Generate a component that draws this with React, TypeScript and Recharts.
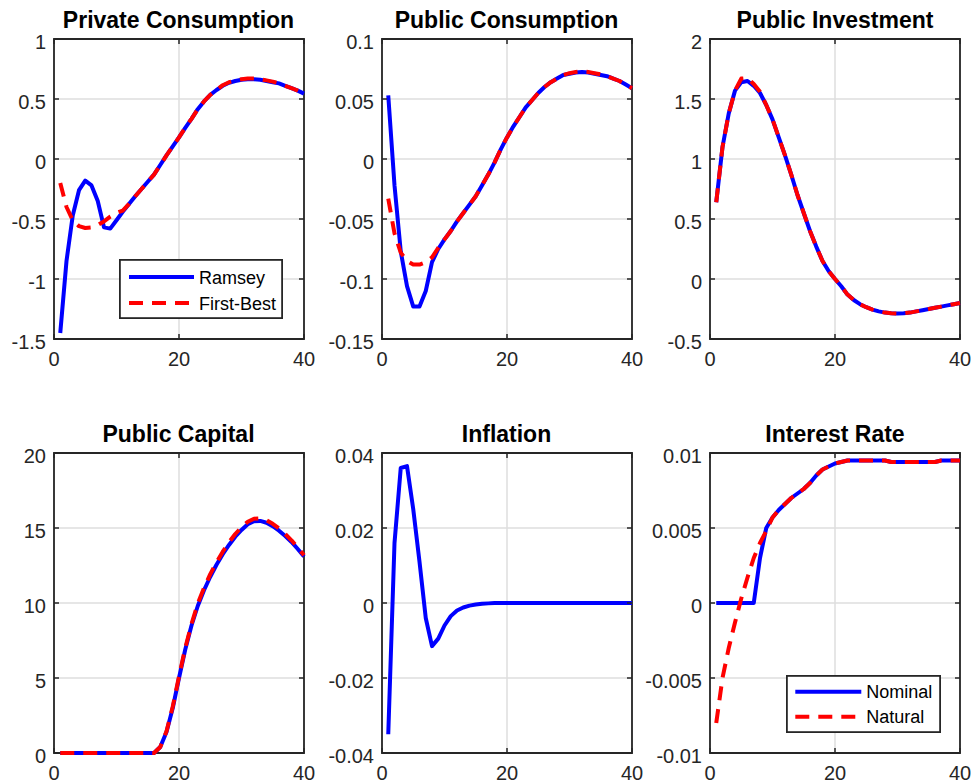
import React from 'react';
import { LineChart, Line, XAxis, YAxis, CartesianGrid, ReferenceArea, Legend } from 'recharts';

// ---------- data ----------
const periods = [1, 2, 3, 4, 5, 6, 7, 8, 9, 10, 11, 12, 13, 14, 15, 16, 17, 18, 19, 20,
  21, 22, 23, 24, 25, 26, 27, 28, 29, 30, 31, 32, 33, 34, 35, 36, 37, 38, 39, 40];
const xTicks = [0, 20, 40];

const titles = ['Private Consumption', 'Public Consumption', 'Public Investment', 'Public Capital', 'Inflation', 'Interest Rate'];
const legendTopLeft = ['Ramsey', 'First-Best'];
const legendBottomRight = ['Nominal', 'Natural'];

const yTicksPrivCons = [-1.5, -1, -0.5, 0, 0.5, 1];
const yTicksPubCons = [-0.15, -0.1, -0.05, 0, 0.05, 0.1];
const yTicksPubInv = [-0.5, 0, 0.5, 1, 1.5, 2];
const yTicksPubCap = [0, 5, 10, 15, 20];
const yTicksInfl = [-0.04, -0.02, 0, 0.02, 0.04];
const yTicksRate = [-0.01, -0.005, 0, 0.005, 0.01];

const privConsRamsey = [-1.45, -0.85, -0.47, -0.26, -0.18, -0.22, -0.35, -0.57, -0.58, -0.51,
  -0.44, -0.375, -0.31, -0.25, -0.19, -0.13, -0.05, 0.03, 0.105, 0.18,
  0.26, 0.335, 0.415, 0.48, 0.535, 0.575, 0.61, 0.635, 0.65, 0.66,
  0.665, 0.665, 0.66, 0.65, 0.64, 0.63, 0.61, 0.59, 0.57, 0.545];
const privConsFirstBest = [-0.2, -0.4, -0.51, -0.56, -0.575, -0.57, -0.55, -0.52, -0.48, -0.45,
  -0.43, -0.375, -0.31, -0.25, -0.19, -0.13, -0.05, 0.03, 0.105, 0.18,
  0.26, 0.335, 0.415, 0.48, 0.535, 0.575, 0.615, 0.64, 0.655, 0.665,
  0.67, 0.67, 0.665, 0.655, 0.645, 0.63, 0.61, 0.59, 0.57, 0.545];

const pubConsRamsey = [0.053, -0.022, -0.077, -0.106, -0.123, -0.123, -0.11, -0.086, -0.075, -0.067,
  -0.06, -0.052, -0.045, -0.038, -0.031, -0.022, -0.013, -0.003, 0.008, 0.018,
  0.027, 0.035, 0.043, 0.049, 0.055, 0.06, 0.064, 0.067, 0.07, 0.071,
  0.072, 0.0725, 0.072, 0.071, 0.07, 0.069, 0.067, 0.065, 0.062, 0.059];
const pubConsFirstBest = [-0.033, -0.062, -0.078, -0.085, -0.088, -0.088, -0.086, -0.082, -0.074, -0.067,
  -0.06, -0.052, -0.045, -0.038, -0.031, -0.022, -0.013, -0.003, 0.008, 0.018,
  0.027, 0.035, 0.043, 0.049, 0.055, 0.06, 0.064, 0.067, 0.07, 0.0715,
  0.0725, 0.073, 0.0725, 0.0715, 0.0705, 0.069, 0.067, 0.065, 0.062, 0.059];

const pubInvRamsey = [0.64, 1.1, 1.38, 1.57, 1.64, 1.65, 1.61, 1.55, 1.45, 1.33,
  1.18, 1.03, 0.87, 0.7, 0.55, 0.4, 0.27, 0.15, 0.065, 0.0,
  -0.06, -0.13, -0.175, -0.21, -0.235, -0.255, -0.27, -0.28, -0.285, -0.287,
  -0.285, -0.28, -0.27, -0.26, -0.25, -0.24, -0.23, -0.22, -0.21, -0.2];
const pubInvFirstBest = [0.64, 1.1, 1.38, 1.57, 1.67, 1.675, 1.625, 1.56, 1.45, 1.33,
  1.18, 1.03, 0.87, 0.7, 0.55, 0.4, 0.27, 0.15, 0.065, 0.0,
  -0.06, -0.13, -0.175, -0.21, -0.235, -0.255, -0.27, -0.28, -0.285, -0.287,
  -0.285, -0.28, -0.27, -0.26, -0.25, -0.24, -0.23, -0.22, -0.21, -0.2];

const pubCapRamsey = [0, 0, 0, 0, 0, 0, 0, 0, 0, 0,
  0, 0, 0, 0, 0, 0, 0.4, 1.4, 3.0, 5.0,
  6.9, 8.5, 9.8, 10.85, 11.75, 12.55, 13.25, 13.87, 14.42, 14.87,
  15.25, 15.45, 15.47, 15.35, 15.12, 14.82, 14.47, 14.07, 13.6, 13.1];
const pubCapFirstBest = [0, 0, 0, 0, 0, 0, 0, 0, 0, 0,
  0, 0, 0, 0, 0, 0, 0.4, 1.45, 3.1, 5.1,
  7.0, 8.6, 9.95, 11.0, 11.92, 12.72, 13.42, 14.05, 14.6, 15.05,
  15.42, 15.62, 15.64, 15.52, 15.28, 14.97, 14.6, 14.18, 13.7, 13.18];

const inflationRamsey = [-0.035, 0.016, 0.036, 0.0365, 0.025, 0.011, -0.004, -0.0115, -0.0095, -0.006,
  -0.0035, -0.002, -0.0012, -0.0007, -0.0004, -0.0002, -0.0001, 0, 0, 0,
  0, 0, 0, 0, 0, 0, 0, 0, 0, 0,
  0, 0, 0, 0, 0, 0, 0, 0, 0, 0];

const rateNominal = [0, 0, 0, 0, 0, 0, 0, 0.003, 0.005, 0.0057,
  0.0062, 0.0066, 0.007, 0.0073, 0.0076, 0.008, 0.0085, 0.0089, 0.0091, 0.0093,
  0.0094, 0.0095, 0.0095, 0.0095, 0.0095, 0.0095, 0.0095, 0.0095, 0.0094, 0.0094,
  0.0094, 0.0094, 0.0094, 0.0094, 0.0094, 0.0094, 0.0095, 0.0095, 0.0095, 0.0095];
const rateNatural = [-0.008, -0.005, -0.003, -0.0013, 0.0003, 0.0017, 0.003, 0.004, 0.0048, 0.0057,
  0.0062, 0.0066, 0.007, 0.0073, 0.0076, 0.008, 0.0085, 0.0089, 0.0091, 0.0093,
  0.0094, 0.0095, 0.0095, 0.0095, 0.0095, 0.0095, 0.0095, 0.0095, 0.0094, 0.0094,
  0.0094, 0.0094, 0.0094, 0.0094, 0.0094, 0.0094, 0.0095, 0.0095, 0.0095, 0.0095];

// ---------- styling / layout ----------
const FONT = "'Liberation Sans', Arial, Helvetica, sans-serif";
const FRAME = '#262626';
const GRID = '#dedede';
const BLUE = '#0000ff';
const RED = '#ff0000';
const DASH = '14 9';
const LW = 4;

const PLOT_W = 250;
const PLOT_H = 300;
const YAXIS_W = 70;
const M_TOP = 10;
const M_RIGHT = 12;
const XAXIS_H = 40;
const CHART_W = YAXIS_W + PLOT_W + M_RIGHT;
const CHART_H = M_TOP + PLOT_H + XAXIS_H;

const COLS = [53.5, 381.5, 710];
const ROWS = [38.5, 453];

type Series = { name: string; values: number[]; color: string; dash?: string };
type LegendCfg = { left: number; top: number; width: number; height: number; lineX: number; lineLen: number; textX: number; rows: number[] };

const YTick = (props: any) => {
  const { x, y, payload } = props;
  return (
    <g>
      <line x1={x} x2={x + 5} y1={y} y2={y} stroke={FRAME} strokeWidth={1.5} />
      <line x1={x + PLOT_W - 5} x2={x + PLOT_W} y1={y} y2={y} stroke={FRAME} strokeWidth={1.5} />
      <text x={x - 8} y={y + 9.5} textAnchor="end" fontSize={20} fill={FRAME} fontFamily={FONT}>
        {String(payload.value)}
      </text>
    </g>
  );
};

const XTick = (props: any) => {
  const { x, y, payload } = props;
  return (
    <g>
      <line x1={x} x2={x} y1={y - 5} y2={y} stroke={FRAME} strokeWidth={1.5} />
      <line x1={x} x2={x} y1={y - PLOT_H} y2={y - PLOT_H + 5} stroke={FRAME} strokeWidth={1.5} />
      <text x={x} y={y + 27} textAnchor="middle" fontSize={20} fill={FRAME} fontFamily={FONT}>
        {String(payload.value)}
      </text>
    </g>
  );
};

const LegendBox = ({ cfg, series }: { cfg: LegendCfg; series: Series[] }) => (
  <svg width={cfg.width} height={cfg.height} style={{ display: 'block' }}>
    <rect x={0.9} y={0.9} width={cfg.width - 1.8} height={cfg.height - 1.8} fill="#ffffff" stroke={FRAME} strokeWidth={1.8} />
    {series.map((s, i) => (
      <g key={s.name}>
        <line x1={cfg.lineX} x2={cfg.lineX + cfg.lineLen} y1={cfg.rows[i]} y2={cfg.rows[i]} stroke={s.color} strokeWidth={LW} strokeDasharray={s.dash} />
        <text x={cfg.textX} y={cfg.rows[i] + 6.5} fontSize={18} fill="#000000" fontFamily={FONT}>{s.name}</text>
      </g>
    ))}
  </svg>
);

type PanelProps = { col: number; row: number; yTicks: number[]; series: Series[]; legend?: LegendCfg };

const Panel = ({ col, row, yTicks, series, legend }: PanelProps) => {
  const data = periods.map((t, i) => {
    const r: any = { t };
    series.forEach((s, k) => { r['s' + k] = s.values[i]; });
    return r;
  });
  const yMin = yTicks[0];
  const yMax = yTicks[yTicks.length - 1];
  const left = COLS[col] - YAXIS_W;
  const top = ROWS[row] - M_TOP;
  return (
    <div style={{ position: 'absolute', left, top, width: CHART_W, height: CHART_H }}>
      <LineChart width={CHART_W} height={CHART_H} data={data} margin={{ top: M_TOP, right: M_RIGHT, bottom: 0, left: 0 }}>
        <CartesianGrid stroke={GRID} strokeWidth={1.5} />
        <XAxis dataKey="t" type="number" domain={[0, 40]} ticks={xTicks} interval={0} height={XAXIS_H}
          axisLine={false} tickLine={false} tickSize={0} tickMargin={0} tick={(p: any) => <XTick {...p} />} />
        <YAxis type="number" domain={[yMin, yMax]} ticks={yTicks} interval={0} width={YAXIS_W}
          axisLine={false} tickLine={false} tickSize={0} tickMargin={0} tick={(p: any) => <YTick {...p} />} />
        {series.map((s, k) => (
          <Line key={s.name} dataKey={'s' + k} name={s.name} type="linear" stroke={s.color} strokeWidth={LW}
            strokeDasharray={s.dash} dot={false} activeDot={false} isAnimationActive={false} strokeLinejoin="round" />
        ))}
        <ReferenceArea x1={0} x2={40} y1={yMin} y2={yMax} fill="none" fillOpacity={0} stroke={FRAME} strokeWidth={1.8} />
        {legend && (
          <Legend layout="vertical" align="center" verticalAlign="middle"
            wrapperStyle={{ left: legend.left, top: legend.top, width: legend.width, height: legend.height }}
            content={() => <LegendBox cfg={legend} series={series} />} />
        )}
      </LineChart>
    </div>
  );
};

const legend1: LegendCfg = { left: 135.5, top: 230.5, width: 164, height: 60, lineX: 10, lineLen: 65, textX: 80, rows: [18, 44] };
const legend6: LegendCfg = { left: 145.7, top: 232, width: 155, height: 58, lineX: 9.3, lineLen: 66, textX: 80.3, rows: [16.7, 41.7] };

export default function App() {
  const panels: PanelProps[] = [
    { col: 0, row: 0, yTicks: yTicksPrivCons, legend: legend1, series: [
      { name: legendTopLeft[0], values: privConsRamsey, color: BLUE },
      { name: legendTopLeft[1], values: privConsFirstBest, color: RED, dash: DASH }] },
    { col: 1, row: 0, yTicks: yTicksPubCons, series: [
      { name: legendTopLeft[0], values: pubConsRamsey, color: BLUE },
      { name: legendTopLeft[1], values: pubConsFirstBest, color: RED, dash: DASH }] },
    { col: 2, row: 0, yTicks: yTicksPubInv, series: [
      { name: legendTopLeft[0], values: pubInvRamsey, color: BLUE },
      { name: legendTopLeft[1], values: pubInvFirstBest, color: RED, dash: DASH }] },
    { col: 0, row: 1, yTicks: yTicksPubCap, series: [
      { name: legendTopLeft[0], values: pubCapRamsey, color: BLUE },
      { name: legendTopLeft[1], values: pubCapFirstBest, color: RED, dash: DASH }] },
    { col: 1, row: 1, yTicks: yTicksInfl, series: [
      { name: legendTopLeft[0], values: inflationRamsey, color: BLUE }] },
    { col: 2, row: 1, yTicks: yTicksRate, legend: legend6, series: [
      { name: legendBottomRight[0], values: rateNominal, color: BLUE },
      { name: legendBottomRight[1], values: rateNatural, color: RED, dash: DASH }] },
  ];
  const titlePos = [[0, 0], [1, 0], [2, 0], [0, 1], [1, 1], [2, 1]];
  return (
    <div style={{ position: 'absolute', left: 0, top: 0, width: 971, height: 784, background: '#ffffff', overflow: 'hidden' }}>
      {panels.map((p, i) => <Panel key={i} {...p} />)}
      <svg width={971} height={784} style={{ position: 'absolute', left: 0, top: 0, pointerEvents: 'none' }}>
        {titles.map((t, i) => (
          <text key={t} x={COLS[titlePos[i][0]] + PLOT_W / 2} y={ROWS[titlePos[i][1]] - 11} textAnchor="middle"
            fontSize={23} fontWeight="bold" fill="#000000" fontFamily={FONT}>{t}</text>
        ))}
      </svg>
    </div>
  );
}
